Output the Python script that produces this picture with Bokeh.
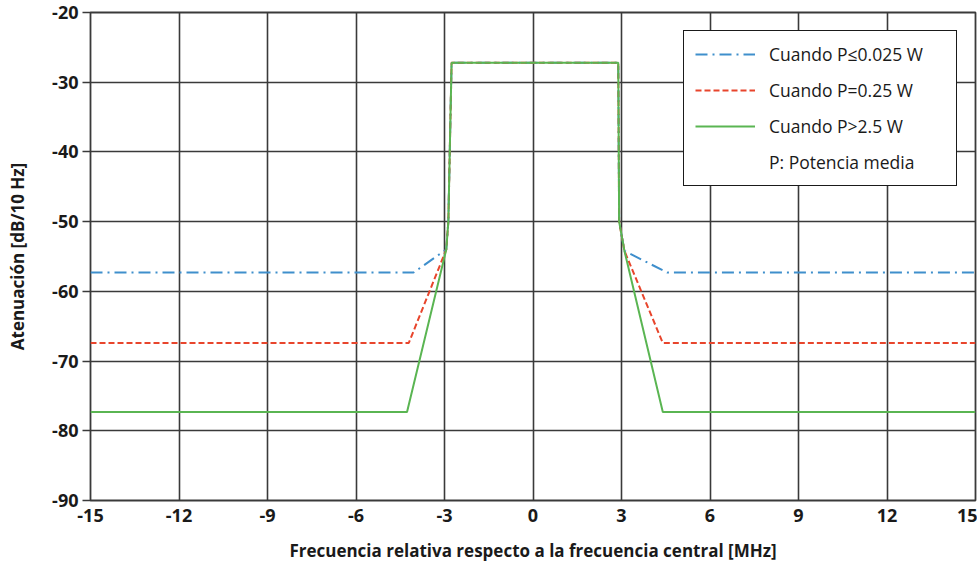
from bokeh.plotting import figure
from bokeh.models import FixedTicker, Legend, LegendItem, PrintfTickFormatter
from bokeh.embed import file_html
from bokeh.resources import INLINE

# Data
x_low = [-15, -4.05, -2.94, -2.87, -2.76, 2.89, 2.92, 3.10, 4.55, 15]
y_low = [-57.3, -57.3, -54.0, -50.0, -27.2, -27.2, -50.0, -54.2, -57.3, -57.3]

x_mid = [-15, -4.21, -2.94, -2.87, -2.76, 2.89, 2.92, 3.10, 4.40, 15]
y_mid = [-67.4, -67.4, -54.0, -50.0, -27.2, -27.2, -50.0, -54.2, -67.4, -67.4]

x_high = [-15, -4.27, -2.94, -2.87, -2.76, 2.89, 2.92, 3.10, 4.40, 15]
y_high = [-77.3, -77.3, -54.0, -50.0, -27.2, -27.2, -50.0, -54.2, -77.3, -77.3]

x_ticks = [-15, -12, -9, -6, -3, 0, 3, 6, 9, 12, 15]
y_ticks = [-90, -80, -70, -60, -50, -40, -30, -20]

labels = ["Cuando P\u22640.025 W", "Cuando P=0.25 W", "Cuando P>2.5 W", "P: Potencia media"]

FONT = "Open Sans"
GRID = "#3a3a3a"

p = figure(width=977, height=566, x_range=(-15, 15), y_range=(-90, -20),
           output_backend="svg", toolbar_location=None,
           min_border_left=90, min_border_top=12, min_border_right=2, min_border_bottom=66)

p.xaxis.ticker = FixedTicker(ticks=x_ticks)
p.yaxis.ticker = FixedTicker(ticks=y_ticks)
p.xgrid.ticker = FixedTicker(ticks=x_ticks)
p.ygrid.ticker = FixedTicker(ticks=y_ticks)
p.xaxis.formatter = PrintfTickFormatter(format="%d")
p.yaxis.formatter = PrintfTickFormatter(format="%d")
for g in (p.xgrid, p.ygrid):
    g.grid_line_color = GRID
    g.grid_line_width = 1.6
    g.grid_line_alpha = 1.0

p.outline_line_color = GRID
p.outline_line_width = 1.8
p.outline_line_alpha = 1.0

for ax in (p.xaxis, p.yaxis):
    ax.axis_line_color = None
    ax.minor_tick_line_color = None
    ax.major_label_text_font = FONT
    ax.major_label_text_font_style = "bold"
    ax.major_label_text_font_size = "18px"
    ax.major_label_text_color = "#1a1a1a"
    ax.axis_label_text_font = FONT
    ax.axis_label_text_font_style = "bold"
    ax.axis_label_text_color = "#1a1a1a"

p.xaxis.major_tick_line_color = None
p.xaxis.major_label_standoff = 2
p.xaxis.axis_label = "Frecuencia relativa respecto a la frecuencia central [MHz]"
p.xaxis.axis_label_text_font_size = "17px"
p.xaxis.axis_label_standoff = 14

p.yaxis.major_tick_line_color = GRID
p.yaxis.major_tick_line_width = 1.6
p.yaxis.major_tick_out = 8
p.yaxis.major_tick_in = 0
p.yaxis.major_label_standoff = 4
p.yaxis.axis_label = "Atenuaci\u00f3n [dB/10 Hz]"
p.yaxis.axis_label_text_font_size = "17px"
p.yaxis.axis_label_standoff = 20

r1 = p.line(x_low, y_low, line_color="#3f8fcc", line_width=2, line_dash="12 5 2 5")
r2 = p.line(x_mid, y_mid, line_color="#e8452c", line_width=2, line_dash="6 3")
r3 = p.line(x_high, y_high, line_color="#5ab552", line_width=2)
r4 = p.line([0, 0], [-100, -100], line_alpha=0)

legend = Legend(items=[LegendItem(label=labels[0], renderers=[r1]),
                       LegendItem(label=labels[1], renderers=[r2]),
                       LegendItem(label=labels[2], renderers=[r3]),
                       LegendItem(label=labels[3], renderers=[r4])],
                location="top_right")
legend.border_line_color = "#1a1a1a"
legend.border_line_width = 1.6
legend.border_line_alpha = 1.0
legend.background_fill_alpha = 1.0
legend.label_text_font = FONT
legend.label_text_font_size = "17.5px"
legend.label_text_color = "#1a1a1a"
legend.glyph_width = 60
legend.glyph_height = 20
legend.label_height = 20
legend.label_width = 176
legend.label_standoff = 14
legend.spacing = 12
legend.padding = 11
legend.margin = 18
legend.label_text_baseline = "middle"
p.add_layout(legend)

open("out.html", "w").write(file_html(p, INLINE))
